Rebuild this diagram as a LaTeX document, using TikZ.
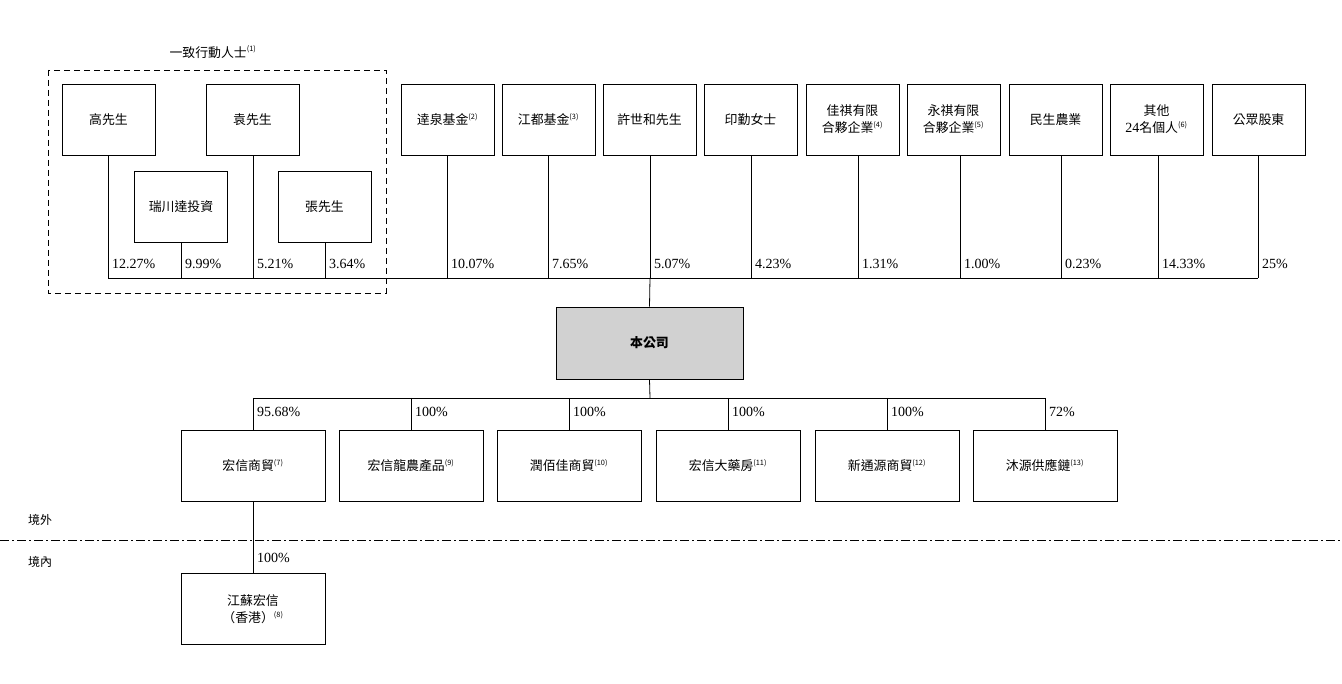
\documentclass[tikz,border=0pt]{standalone}
\usepackage{fontspec}
\setmainfont{Liberation Serif}
\newfontfamily\cjk{Noto Sans CJK TC}[Scale=0.92]
\begin{document}
\begin{tikzpicture}[x=1pt,y=-1pt,
  bx/.style={draw,line width=0.8pt,minimum width=93pt,minimum height=71pt,inner sep=1pt,align=center,font=\cjk\fontsize{14}{17}\selectfont},
  sbx/.style={bx,minimum width=144pt},
  pct/.style={anchor=west,font=\fontsize{14}{16}\selectfont,inner sep=1pt},
  ln/.style={line width=0.8pt}]
\useasboundingbox (0,0) rectangle (1342,684);
\newcommand{\fn}[1]{\textsuperscript{\fontsize{8}{8}\selectfont(#1)}}
\draw[dashed,line width=0.8pt,dash pattern=on 6pt off 4pt] (48,70) rectangle (386,293);
\node[font=\cjk\itshape\fontsize{14}{16}\selectfont] (lbl) at (213,52) {一致行動人士\fn{\textit{1}}};
\node[bx] (gao) at (108.5,119.5) {高先生};
\node[bx] (yuan) at (252.5,119.5) {袁先生};
\node[bx] (rui) at (181,206.5) {瑞川達投資};
\node[bx] (zhang) at (324.5,206.5) {張先生};
\foreach \n/\x/\t in {a/447.5/�William,b/548.5/x}{}
\node[bx] (a) at (447.5,119.5) {逹泉基金\fn{2}};
\node[bx] (b) at (548.5,119.5) {江都基金\fn{3}};
\node[bx] (c) at (649.5,119.5) {許世和先生};
\node[bx] (d) at (750.5,119.5) {印勤女士};
\node[bx] (e) at (852.5,119.5) {佳祺有限\\合夥企業\fn{4}};
\node[bx] (f) at (953.5,119.5) {永祺有限\\合夥企業\fn{5}};
\node[bx] (g) at (1055.5,119.5) {民生農業};
\node[bx] (h) at (1156.5,119.5) {其他\\{\rmfamily 24}名個人\fn{6}};
\node[bx] (i) at (1258.5,119.5) {公眾股東};
\coordinate (bl) at (108,278);
\coordinate (br) at (1258,278);
\draw[ln] (bl) -- (br);
\foreach \n/\x/\p in {gao/108/12.27\%,rui/181/9.99\%,yuan/253/5.21\%,zhang/325/3.64\%,a/447/10.07\%,b/548/7.65\%,c/650/5.07\%,d/751/4.23\%,e/858/1.31\%,f/960/1.00\%,g/1061/0.23\%,h/1158/14.33\%,i/1258/25\%}{
  \draw[ln] (\n.south -| \x,0) -- (\x,278);
  \node[pct] at (\x+3,264) {\p};
}
\node[bx,minimum width=187pt,minimum height=72pt,fill=black!18,font=\cjk\bfseries\fontsize{14}{17}\selectfont] (co) at (649.5,343) {本公司};
\draw[ln] (650,278) -- (co.north);
\draw[ln] (co.south) -- (650,398);
\draw[ln] (253,398) -- (1045,398);
\node[sbx] (s1) at (253,465.5) {宏信商貿\fn{7}};
\node[sbx] (s2) at (411,465.5) {宏信龍農產品\fn{9}};
\node[sbx] (s3) at (569,465.5) {潤佰佳商貿\fn{10}};
\node[sbx] (s4) at (728,465.5) {宏信大藥房\fn{11}};
\node[sbx] (s5) at (887,465.5) {新通源商貿\fn{12}};
\node[sbx] (s6) at (1045,465.5) {沐源供應鏈\fn{13}};
\foreach \n/\x/\p in {s1/253/95.68\%,s2/411/100\%,s3/569/100\%,s4/728/100\%,s5/887/100\%,s6/1045/72\%}{
  \draw[ln] (\x,398) -- (\n.north);
  \node[pct] at (\x+3,412) {\p};
}
\coordinate (dl) at (0,540);
\coordinate (dr) at (1342,540);
\draw[line width=0.8pt,dash pattern=on 9pt off 3pt on 2pt off 3pt] (dl) -- (dr);
\node[font=\cjk\fontsize{13}{15}\selectfont] (out) at (40,520) {境外};
\node[font=\cjk\fontsize{13}{15}\selectfont] (in) at (40,562) {境內};
\node[sbx] (j) at (253,609) {江蘇宏信\\（香港）\fn{8}};
\draw[ln] (s1) -- (j);
\node[pct] at (256,558) {100\%};
\end{tikzpicture}
\end{document}
